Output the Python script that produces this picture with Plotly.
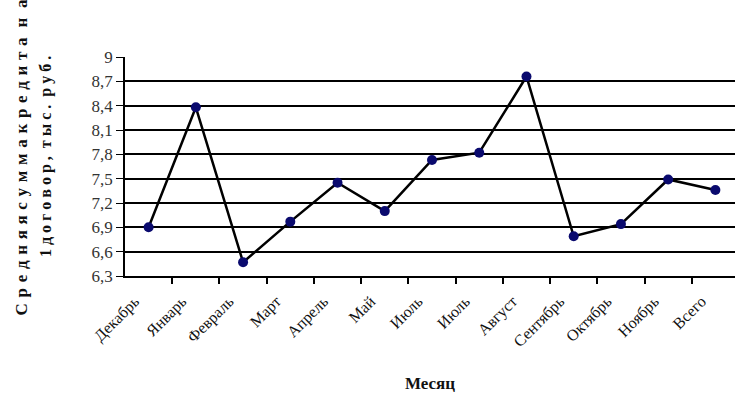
import plotly.graph_objects as go

months = ["Декабрь", "Январь", "Февраль", "Март", "Апрель", "Май", "Июль",
          "Июль", "Август", "Сентябрь", "Октябрь", "Ноябрь", "Всего"]
avg_credit = [6.90, 8.38, 6.47, 6.97, 7.45, 7.10, 7.73, 7.82, 8.76, 6.79, 6.94, 7.49, 7.36]
y_ticks = [6.3, 6.6, 6.9, 7.2, 7.5, 7.8, 8.1, 8.4, 8.7, 9.0]
y_tick_text = ["6,3", "6,6", "6,9", "7,2", "7,5", "7,8", "8,1", "8,4", "8,7", "9"]

x_pos = list(range(len(months)))
boundaries = [i + 0.5 for i in range(len(months))]


def spaced(text, gap=" "):
    """Letter-spaced title text."""
    return gap.join(text)


fig = go.Figure()
fig.add_trace(go.Scatter(
    x=x_pos, y=avg_credit, mode="lines+markers",
    line=dict(color="black", width=2.5),
    marker=dict(color="#0a0a6e", size=10, line=dict(color="#0a0a6e", width=0)),
    showlegend=False,
))

serif = "Liberation Serif, Times New Roman, serif"

fig.update_layout(
    width=735, height=393,
    margin=dict(l=125, r=0, t=57, b=117),
    paper_bgcolor="white", plot_bgcolor="white",
    font=dict(family=serif, color="black"),
    xaxis=dict(
        range=[-0.5, 12.415],
        tickvals=x_pos, ticktext=months, tickangle=-45,
        ticks="", showgrid=False, zeroline=False,
        showline=True, linecolor="black", linewidth=1.5,
        tickfont=dict(size=16, family=serif, color="#111"),
        ticklabelshift=-14, ticklabelstandoff=8,
        minor=dict(tickvals=boundaries, ticks="outside", ticklen=6,
                   tickcolor="black", tickwidth=1.5),
    ),
    yaxis=dict(
        range=[6.3, 9.0],
        tickvals=y_ticks, ticktext=y_tick_text,
        ticks="outside", ticklen=7, tickcolor="black", tickwidth=1,
        showgrid=True, gridcolor="black", gridwidth=1.5,
        zeroline=False, showline=True, linecolor="black", linewidth=1.5,
        tickfont=dict(size=17, family=serif, color="#333"),
    ),
)

fig.add_annotation(
    text="<b>" + spaced("Средняясуммакредита", " \u200a") + " \u200a н \u200a а</b>",
    xref="paper", yref="paper", x=-0.170, y=0.543, xanchor="center", yanchor="middle",
    textangle=-90, showarrow=False, font=dict(size=17, family=serif, color="#111"),
)
fig.add_annotation(
    text="<b>1 д о г о в о р ,  т ы с .  р у б .</b>",
    xref="paper", yref="paper", x=-0.1295, y=0.543, xanchor="center", yanchor="middle",
    textangle=-90, showarrow=False, font=dict(size=16, family=serif, color="#111"),
)
fig.add_annotation(
    text="<b>Месяц</b>",
    xref="paper", yref="paper", x=0.5, y=-0.489,
    xanchor="center", yanchor="middle",
    showarrow=False, font=dict(size=17, family=serif, color="#111"),
)

fig.write_html("out.html")
